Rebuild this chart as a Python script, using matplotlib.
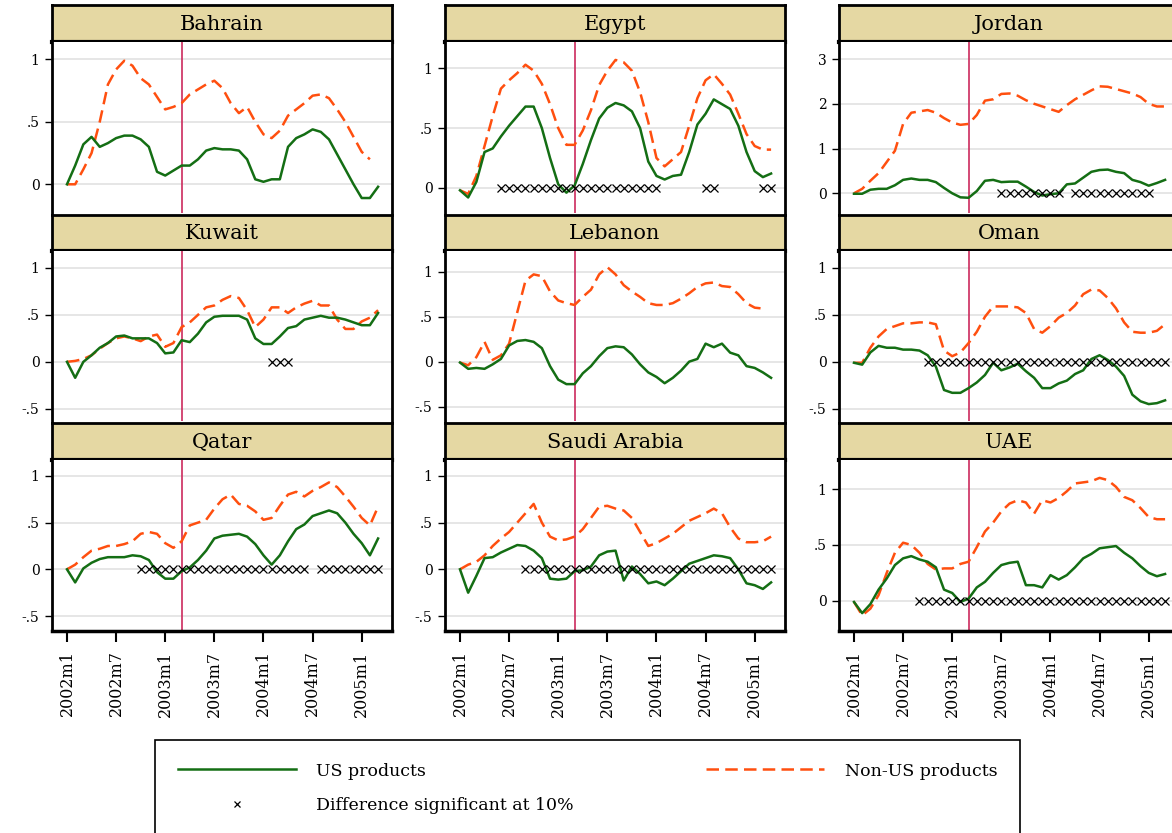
import matplotlib.pyplot as plt
from matplotlib.lines import Line2D
import numpy as np

plt.rcParams['font.family'] = 'DejaVu Serif'

# months 2002m1 .. 2005m3
months = np.arange(39)
tick_months = [0, 6, 12, 18, 24, 30, 36]
tick_labels = ['2002m1', '2002m7', '2003m1', '2003m7', '2004m1', '2004m7', '2005m1']
war_month = 14  # 2003m3

countries = ['Bahrain', 'Egypt', 'Jordan', 'Kuwait', 'Lebanon', 'Oman',
             'Qatar', 'Saudi Arabia', 'UAE']

us_bahrain = [0, 0.15, 0.32, 0.38, 0.3, 0.33, 0.37, 0.39, 0.39, 0.36, 0.3, 0.1, 0.07,
              0.11, 0.15, 0.15, 0.2, 0.27, 0.29, 0.28, 0.28, 0.27, 0.2, 0.04, 0.02, 0.04,
              0.04, 0.3, 0.37, 0.4, 0.44, 0.42, 0.36, 0.24, 0.12, 0.0, -0.11, -0.11, -0.02]
nonus_bahrain = [0, 0.0, 0.12, 0.25, 0.5, 0.8, 0.92, 0.99, 0.95, 0.85, 0.8, 0.7, 0.6,
                 0.62, 0.65, 0.72, 0.76, 0.8, 0.83, 0.77, 0.65, 0.57, 0.62, 0.5, 0.4, 0.37,
                 0.43, 0.55, 0.6, 0.65, 0.71, 0.72, 0.69, 0.6, 0.5, 0.38, 0.26, 0.2, np.nan]

us_egypt = [-0.02, -0.08, 0.05, 0.3, 0.33, 0.43, 0.52, 0.6, 0.68, 0.68, 0.5, 0.25, 0.03,
            -0.04, 0.02, 0.2, 0.4, 0.58, 0.67, 0.71, 0.69, 0.64, 0.5, 0.22, 0.1, 0.07,
            0.1, 0.11, 0.3, 0.53, 0.62, 0.74, 0.7, 0.66, 0.52, 0.3, 0.14, 0.09, 0.12]
nonus_egypt = [-0.02, -0.05, 0.1, 0.35, 0.6, 0.83, 0.9, 0.96, 1.03, 0.98, 0.87, 0.7, 0.5,
               0.36, 0.36, 0.48, 0.65, 0.86, 0.98, 1.07, 1.05, 0.98, 0.8, 0.55, 0.25, 0.18,
               0.24, 0.3, 0.52, 0.75, 0.9, 0.95, 0.87, 0.78, 0.62, 0.45, 0.35, 0.32, 0.32]

us_jordan = [-0.01, -0.01, 0.08, 0.1, 0.1, 0.18, 0.3, 0.33, 0.3, 0.3, 0.25, 0.12, 0.0,
             -0.09, -0.1, 0.05, 0.28, 0.3, 0.25, 0.26, 0.26, 0.15, 0.03, -0.05, -0.02, 0.0,
             0.2, 0.22, 0.35, 0.48, 0.52, 0.53, 0.48, 0.45, 0.3, 0.25, 0.17, 0.23, 0.3]
nonus_jordan = [0, 0.1, 0.28, 0.45, 0.7, 0.95, 1.55, 1.8, 1.83, 1.86, 1.8, 1.68, 1.58,
                1.53, 1.55, 1.75, 2.07, 2.1, 2.22, 2.23, 2.18, 2.08, 2.0, 1.94, 1.88, 1.82,
                1.97, 2.1, 2.2, 2.3, 2.39, 2.38, 2.33, 2.28, 2.23, 2.15, 2.0, 1.94, 1.94]

us_kuwait = [0, -0.17, 0.0, 0.07, 0.15, 0.2, 0.27, 0.28, 0.25, 0.25, 0.25, 0.2, 0.09,
             0.1, 0.23, 0.21, 0.3, 0.42, 0.48, 0.49, 0.49, 0.49, 0.45, 0.25, 0.19, 0.19,
             0.27, 0.36, 0.38, 0.45, 0.47, 0.49, 0.47, 0.47, 0.45, 0.42, 0.39, 0.39, 0.52]
nonus_kuwait = [0, 0.01, 0.03, 0.07, 0.14, 0.2, 0.25, 0.27, 0.25, 0.22, 0.27, 0.29, 0.16,
                0.2, 0.37, 0.42, 0.5, 0.58, 0.6, 0.66, 0.7, 0.68, 0.55, 0.37, 0.45, 0.58,
                0.58, 0.52, 0.58, 0.62, 0.65, 0.6, 0.6, 0.45, 0.35, 0.35, 0.43, 0.47, 0.55]

us_lebanon = [-0.01, -0.08, -0.07, -0.08, -0.03, 0.03, 0.18, 0.23, 0.24, 0.22, 0.15, -0.05,
              -0.2, -0.25, -0.25, -0.13, -0.05, 0.06, 0.15, 0.17, 0.16, 0.08, -0.03, -0.12,
              -0.17, -0.24, -0.18, -0.1, 0.0, 0.03, 0.2, 0.16, 0.2, 0.1, 0.07, -0.05, -0.07,
              -0.12, -0.18]
nonus_lebanon = [-0.01, -0.04, 0.05, 0.22, 0.02, 0.07, 0.2, 0.55, 0.9, 0.97, 0.95, 0.78,
                 0.68, 0.65, 0.63, 0.72, 0.8, 0.97, 1.05, 0.97, 0.85, 0.78, 0.72, 0.65, 0.63,
                 0.63, 0.65, 0.7, 0.76, 0.83, 0.87, 0.88, 0.84, 0.83, 0.75, 0.65, 0.6, 0.59,
                 np.nan]

us_oman = [-0.01, -0.03, 0.1, 0.17, 0.15, 0.15, 0.13, 0.13, 0.12, 0.07, -0.05, -0.3, -0.33,
           -0.33, -0.28, -0.22, -0.14, -0.01, -0.09, -0.06, -0.02, -0.1, -0.17, -0.28, -0.28,
           -0.23, -0.2, -0.13, -0.09, 0.03, 0.07, 0.02, -0.05, -0.15, -0.35, -0.42, -0.45,
           -0.44, -0.41]
nonus_oman = [-0.01, -0.01, 0.15, 0.27, 0.35, 0.38, 0.41, 0.41, 0.42, 0.42, 0.4, 0.12, 0.06,
              0.1, 0.2, 0.32, 0.48, 0.59, 0.59, 0.59, 0.58, 0.52, 0.35, 0.31, 0.38, 0.47,
              0.52, 0.6, 0.72, 0.77, 0.76, 0.68, 0.57, 0.42, 0.32, 0.31, 0.31, 0.33, 0.4]

us_qatar = [0, -0.14, 0.01, 0.07, 0.11, 0.13, 0.13, 0.13, 0.15, 0.14, 0.1, -0.03, -0.1,
            -0.1, -0.02, 0.02, 0.1, 0.2, 0.33, 0.36, 0.37, 0.38, 0.35, 0.27, 0.15, 0.05,
            0.15, 0.3, 0.43, 0.48, 0.57, 0.6, 0.63, 0.6, 0.5, 0.38, 0.28, 0.15, 0.33]
nonus_qatar = [0, 0.05, 0.13, 0.2, 0.22, 0.25, 0.25, 0.27, 0.3, 0.38, 0.4, 0.38, 0.28,
               0.23, 0.3, 0.47, 0.5, 0.53, 0.65, 0.75, 0.8, 0.7, 0.68, 0.62, 0.53, 0.55,
               0.68, 0.8, 0.83, 0.78, 0.84, 0.88, 0.93, 0.88, 0.78, 0.67, 0.55, 0.47, 0.67]

us_saudi = [0, -0.25, -0.07, 0.12, 0.13, 0.18, 0.22, 0.26, 0.25, 0.2, 0.12, -0.1, -0.11,
            -0.1, -0.02, -0.01, 0.03, 0.15, 0.19, 0.2, -0.12, 0.03, -0.05, -0.15, -0.13,
            -0.17, -0.1, -0.02, 0.06, 0.09, 0.12, 0.15, 0.14, 0.12, 0.0, -0.15, -0.17,
            -0.21, -0.14]
nonus_saudi = [0, 0.05, 0.08, 0.15, 0.25, 0.33, 0.4, 0.5, 0.6, 0.7, 0.5, 0.35, 0.31, 0.32,
               0.35, 0.43, 0.55, 0.67, 0.68, 0.65, 0.63, 0.55, 0.4, 0.25, 0.28, 0.33, 0.38,
               0.45, 0.52, 0.56, 0.6, 0.65, 0.6, 0.45, 0.33, 0.29, 0.29, 0.3, 0.35]

us_uae = [-0.01, -0.11, -0.03, 0.1, 0.2, 0.32, 0.38, 0.4, 0.37, 0.35, 0.3, 0.1, 0.07,
          -0.01, 0.02, 0.12, 0.17, 0.25, 0.32, 0.34, 0.35, 0.14, 0.14, 0.12, 0.23, 0.19,
          0.23, 0.3, 0.38, 0.42, 0.47, 0.48, 0.49, 0.43, 0.38, 0.31, 0.25, 0.22, 0.24]
nonus_uae = [-0.01, -0.13, -0.07, 0.05, 0.25, 0.43, 0.52, 0.5, 0.43, 0.33, 0.28, 0.29, 0.29,
             0.33, 0.35, 0.48, 0.62, 0.7, 0.8, 0.87, 0.9, 0.88, 0.78, 0.9, 0.88, 0.92, 0.98,
             1.05, 1.06, 1.07, 1.1, 1.08, 1.02, 0.93, 0.9, 0.83, 0.75, 0.73, 0.73]

# months where the difference is significant at 10%
sig_bahrain = []
sig_egypt = [5, 6, 7, 8, 9, 10, 11, 12, 13, 14, 15, 16, 17, 18, 19, 20, 21, 22, 23, 24,
             30, 31, 37, 38]
sig_jordan = [18, 19, 20, 21, 22, 23, 24, 25, 27, 28, 29, 30, 31, 32, 33, 34, 35, 36]
sig_kuwait = [25, 26, 27]
sig_lebanon = []
sig_oman = [9, 10, 11, 12, 13, 14, 15, 16, 17, 18, 19, 20, 21, 22, 23, 24, 25, 26, 27, 28,
            29, 30, 31, 32, 33, 34, 35, 36, 37, 38]
sig_qatar = [9, 10, 11, 12, 13, 14, 15, 16, 17, 18, 19, 20, 21, 22, 23, 24, 25, 26, 27, 28,
             29, 31, 32, 33, 34, 35, 36, 37, 38]
sig_saudi = [8, 9, 10, 11, 12, 13, 14, 15, 16, 17, 18, 19, 20, 21, 22, 23, 24, 25, 26, 27,
             28, 29, 30, 31, 32, 33, 34, 35, 36, 37, 38]
sig_uae = [8, 9, 10, 11, 12, 13, 14, 15, 16, 17, 18, 19, 20, 21, 22, 23, 24, 25, 26, 27,
           28, 29, 30, 31, 32, 33, 34, 35, 36, 37, 38]

us = [us_bahrain, us_egypt, us_jordan, us_kuwait, us_lebanon, us_oman, us_qatar, us_saudi, us_uae]
nonus = [nonus_bahrain, nonus_egypt, nonus_jordan, nonus_kuwait, nonus_lebanon, nonus_oman,
         nonus_qatar, nonus_saudi, nonus_uae]
sig = [sig_bahrain, sig_egypt, sig_jordan, sig_kuwait, sig_lebanon, sig_oman, sig_qatar,
       sig_saudi, sig_uae]

yticks = [[0, 0.5, 1], [0, 0.5, 1], [0, 1, 2, 3],
          [-0.5, 0, 0.5, 1], [-0.5, 0, 0.5, 1], [-0.5, 0, 0.5, 1],
          [-0.5, 0, 0.5, 1], [-0.5, 0, 0.5, 1], [0, 0.5, 1]]
ylims = [(-0.23, 1.14), (-0.21, 1.22), (-0.44, 3.38),
         (-0.63, 1.18), (-0.66, 1.23), (-0.63, 1.18),
         (-0.66, 1.17), (-0.66, 1.17), (-0.27, 1.26)]

def fmt(v):
    if v == int(v):
        return str(int(v))
    s = ('%g' % v)
    return s.replace('0.', '.')

W, H = 1172, 833
fig = plt.figure(figsize=(W / 100, H / 100), dpi=100)

col_left = [52, 445, 839]
col_width = 340
rows = [(5, 42, 213), (215, 251, 421), (423, 460, 631)]  # title top, plot top, plot bottom

green = '#146e14'
orange = '#ff4f0f'
tan = '#e5d8a3'

for k, name in enumerate(countries):
    r, c = divmod(k, 3)
    ttop, ptop, pbot = rows[r]
    left = col_left[c]

    tax = fig.add_axes([left / W, 1 - ptop / H, col_width / W, (ptop - ttop) / H])
    tax.set_facecolor(tan)
    tax.set_xticks([])
    tax.set_yticks([])
    for s in tax.spines.values():
        s.set_linewidth(2)
    tax.spines['bottom'].set_linewidth(3)
    tax.text(0.5, 0.48, name, ha='center', va='center', fontsize=15, transform=tax.transAxes)

    ax = fig.add_axes([left / W, 1 - pbot / H, col_width / W, (pbot - ptop) / H])
    ax.set_xlim(-1.83, 39.7)
    ax.set_ylim(*ylims[k])
    ax.set_yticks(yticks[k])
    ax.set_yticklabels([fmt(v) for v in yticks[k]], fontsize=10)
    ax.yaxis.grid(True, color='#e2e2e2', linewidth=1.2)
    ax.set_axisbelow(True)
    ax.tick_params(axis='y', length=5, width=1, pad=4)
    ax.spines['left'].set_linewidth(2)
    ax.spines['right'].set_linewidth(2)
    ax.spines['top'].set_visible(False)
    if r == 2:
        ax.spines['bottom'].set_linewidth(2.5)
        ax.set_xticks(tick_months)
        ax.set_xticklabels(tick_labels, rotation=90, fontsize=11.5)
        ax.tick_params(axis='x', length=8, width=1.5, pad=6)
    else:
        ax.spines['bottom'].set_visible(False)
        ax.set_xticks([])

    ax.axvline(war_month, color='#cc2b5e', linewidth=1.2)
    ax.plot(months, nonus[k], color=orange, linewidth=1.8, dashes=(5, 2.5))
    ax.plot(months, us[k], color=green, linewidth=1.8)
    if sig[k]:
        ax.plot(sig[k], np.zeros(len(sig[k])), linestyle='none', marker='x',
                color='black', markersize=5.5, markeredgewidth=0.9)

handles = [Line2D([], [], color=green, linewidth=1.8),
           Line2D([], [], linestyle='none', marker='x', color='black', markersize=5,
                  markeredgewidth=0.9),
           Line2D([], [], color=orange, linewidth=1.8, dashes=(5, 2.5))]
labels = ['US products', 'Difference significant at 10%', 'Non-US products']
leg = fig.legend(handles, labels, ncol=2, loc='upper left',
                 bbox_to_anchor=(155 / W, 1 - 740 / H), borderaxespad=0,
                 fontsize=12.5, frameon=True, fancybox=False, edgecolor='black',
                 framealpha=1, handlelength=6.8, handletextpad=1.2, columnspacing=7.6,
                 borderpad=1.3, labelspacing=1.0)
leg.get_frame().set_linewidth(1.2)

fig.savefig('out.png', dpi=100)
